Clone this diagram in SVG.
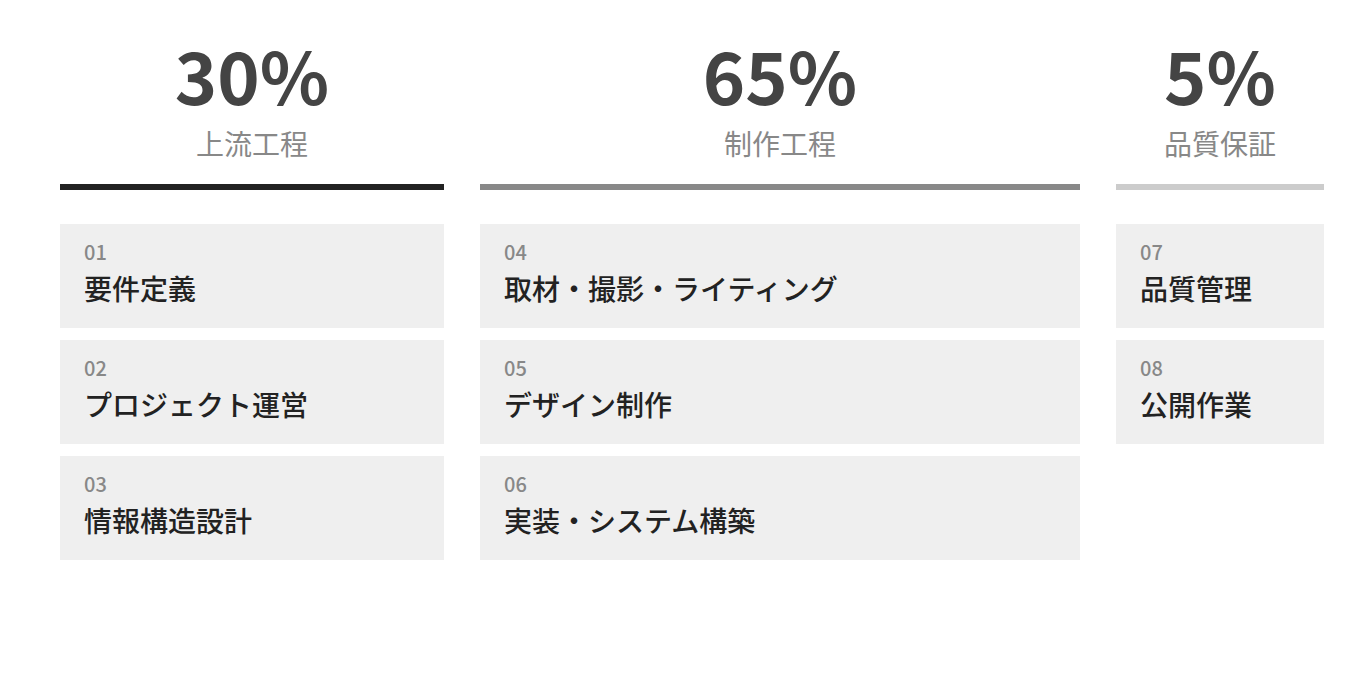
<svg xmlns="http://www.w3.org/2000/svg" width="1360" height="680" viewBox="0 0 1360 680">
<style>
text{font-family:"Noto Sans CJK JP","Noto Sans",sans-serif;}
.pct{font-size:72px;font-weight:700;fill:#444;text-anchor:middle;}
.cat{font-size:28px;font-weight:400;fill:#888;text-anchor:middle;}
.box{fill:#efefef;}
.num{font-size:20px;font-weight:500;fill:#888;}
.lbl{font-size:28px;font-weight:500;fill:#222;}
</style>
<rect width="1360" height="680" fill="#fff"/>
<g id="col-upstream">
<text class="pct" x="252" y="105">30%</text>
<text class="cat" x="252" y="155">上流工程</text>
<rect x="60" y="184" width="384" height="6" fill="#222"/>
</g>
<g id="col-production">
<text class="pct" x="780" y="105">65%</text>
<text class="cat" x="780" y="155">制作工程</text>
<rect x="480" y="184" width="600" height="6" fill="#888"/>
</g>
<g id="col-qa">
<text class="pct" x="1220" y="105">5%</text>
<text class="cat" x="1220" y="155">品質保証</text>
<rect x="1116" y="184" width="208" height="6" fill="#ccc"/>
</g>
<g id="item-01"><rect class="box" x="60" y="224" width="384" height="104"/><text class="num" x="84" y="260">01</text><text class="lbl" x="84" y="300">要件定義</text></g>
<g id="item-02"><rect class="box" x="60" y="340" width="384" height="104"/><text class="num" x="84" y="376">02</text><text class="lbl" x="84" y="416">プロジェクト運営</text></g>
<g id="item-03"><rect class="box" x="60" y="456" width="384" height="104"/><text class="num" x="84" y="492">03</text><text class="lbl" x="84" y="532">情報構造設計</text></g>
<g id="item-04"><rect class="box" x="480" y="224" width="600" height="104"/><text class="num" x="504" y="260">04</text><text class="lbl" x="504" y="300">取材・撮影・ライティング</text></g>
<g id="item-05"><rect class="box" x="480" y="340" width="600" height="104"/><text class="num" x="504" y="376">05</text><text class="lbl" x="504" y="416">デザイン制作</text></g>
<g id="item-06"><rect class="box" x="480" y="456" width="600" height="104"/><text class="num" x="504" y="492">06</text><text class="lbl" x="504" y="532">実装・システム構築</text></g>
<g id="item-07"><rect class="box" x="1116" y="224" width="208" height="104"/><text class="num" x="1140" y="260">07</text><text class="lbl" x="1140" y="300">品質管理</text></g>
<g id="item-08"><rect class="box" x="1116" y="340" width="208" height="104"/><text class="num" x="1140" y="376">08</text><text class="lbl" x="1140" y="416">公開作業</text></g>
<g id="connectors"></g>
</svg>
